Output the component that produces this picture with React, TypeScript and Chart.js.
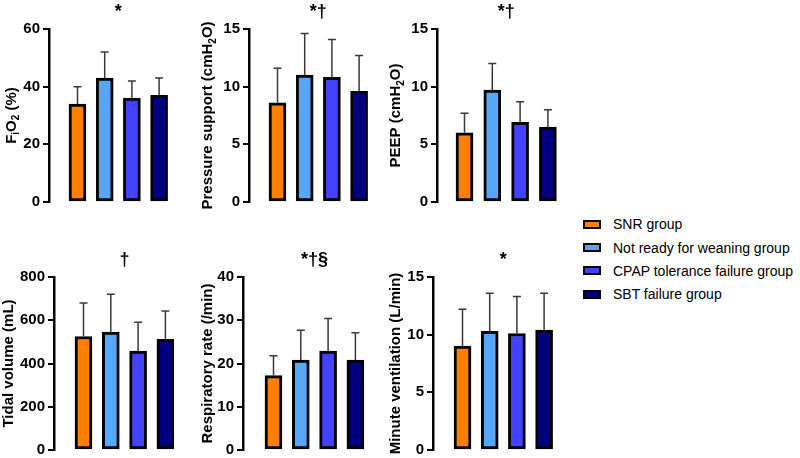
import React, { useEffect, useRef } from "react";
import { Chart, registerables } from "chart.js";

Chart.register(...registerables);

const FONT = '"Liberation Sans", Arial, Helvetica, sans-serif';

// ---- data ----
const groups = [
  "SNR group",
  "Not ready for weaning group",
  "CPAP tolerance failure group",
  "SBT failure group",
];
const groupColors = ["#FF8000", "#56A6FA", "#4343FF", "#000080"];
const groupPositions = [1, 2, 3, 4];

const fio2Mean = [34, 43, 36, 37];
const fio2Sd = [6, 9, 6, 6];
const psMean = [8.6, 11.0, 10.8, 9.6];
const psSd = [3.0, 3.6, 3.3, 3.1];
const peepMean = [6.0, 9.7, 6.9, 6.5];
const peepSd = [1.7, 2.3, 1.8, 1.5];
const vtMean = [525, 545, 458, 512];
const vtSd = [155, 175, 133, 131];
const rrMean = [17.2, 20.8, 22.9, 20.8];
const rrSd = [4.6, 6.9, 7.5, 6.3];
const mvMean = [9.0, 10.3, 10.1, 10.4];
const mvSd = [3.2, 3.3, 3.2, 3.2];

const axisMax = [60, 15, 15, 800, 40, 15];
const axisStep = [20, 5, 5, 200, 10, 5];
const markers = ["*", "*†", "*†", "†", "*†§", "*"];

type Seg = { t: string; sub?: boolean };
const axisTitles: Seg[][] = [
  [{ t: "F" }, { t: "i", sub: true }, { t: "O" }, { t: "2", sub: true }, { t: " (%)" }],
  [{ t: "Pressure support (cmH" }, { t: "2", sub: true }, { t: "O)" }],
  [{ t: "PEEP (cmH" }, { t: "2", sub: true }, { t: "O)" }],
  [{ t: "Tidal volume (mL)" }],
  [{ t: "Respiratory rate (/min)" }],
  [{ t: "Minute ventilation (L/min)" }],
];

const means = [fio2Mean, psMean, peepMean, vtMean, rrMean, mvMean];
const sds = [fio2Sd, psSd, peepSd, vtSd, rrSd, mvSd];

// ---- layout (page px) ----
const AXW = 56;
const PLOT_H = 173;
const PAD_TOP = 29;
const PAD_BOTTOM = 16;
const X_MAX = 4.6;
const layout = [
  { L: 49, T: 29, off: 28.5, sp: 27.2, tdx: -38.5 },
  { L: 249, T: 29, off: 28.5, sp: 27.2, tdx: -42 },
  { L: 437, T: 29, off: 27.5, sp: 27.8, tdx: -42 },
  { L: 54, T: 277, off: 29.5, sp: 27.3, tdx: -46 },
  { L: 243, T: 277, off: 30.5, sp: 27.3, tdx: -36 },
  { L: 433, T: 277, off: 29.5, sp: 27.2, tdx: -38 },
];

function Panel({ idx }: { idx: number }) {
  const ref = useRef<HTMLCanvasElement | null>(null);
  const lay = layout[idx];
  const xMin = 1 - lay.off / lay.sp;
  const plotW = (X_MAX - xMin) * lay.sp;
  const cw = Math.round(AXW + plotW + 4);
  const ch = PAD_TOP + PLOT_H + PAD_BOTTOM;

  useEffect(() => {
    if (!ref.current) return;
    const mean = means[idx];
    const sd = sds[idx];
    const extras = {
      id: "extras" + idx,
      afterDatasetsDraw(chart: any) {
        const ctx = chart.ctx;
        const meta = chart.getDatasetMeta(0);
        const ys = chart.scales.y;
        ctx.save();
        ctx.strokeStyle = "#3a3a3a";
        ctx.lineWidth = 1.5;
        meta.data.forEach((bar: any, i: number) => {
          const x = bar.x;
          const y0 = ys.getPixelForValue(mean[i]);
          const y1 = ys.getPixelForValue(mean[i] + sd[i]);
          ctx.beginPath();
          ctx.moveTo(x, y0);
          ctx.lineTo(x, y1);
          ctx.moveTo(x - 4, y1);
          ctx.lineTo(x + 4, y1);
          ctx.stroke();
        });
        ctx.restore();
      },
      afterDraw(chart: any) {
        const ctx = chart.ctx;
        const area = chart.chartArea;
        const xs = chart.scales.x;
        ctx.save();
        // significance marker
        ctx.fillStyle = "#000";
        ctx.font = `bold 18px ${FONT}`;
        ctx.textAlign = "center";
        ctx.textBaseline = "middle";
        ctx.fillText(markers[idx], xs.getPixelForValue(2.5), area.top - 17);
        // axis title with subscripts
        const segs = axisTitles[idx];
        const size = 15;
        const subSize = 10;
        const mainFont = `bold ${size}px ${FONT}`;
        const subFont = `bold ${subSize}px ${FONT}`;
        let total = 0;
        const widths = segs.map((s) => {
          ctx.font = s.sub ? subFont : mainFont;
          const w = ctx.measureText(s.t).width;
          total += w;
          return w;
        });
        const cx = area.left + lay.tdx;
        const cy = (area.top + area.bottom) / 2;
        ctx.translate(cx, cy);
        ctx.rotate(-Math.PI / 2);
        ctx.textAlign = "left";
        ctx.textBaseline = "alphabetic";
        let x = -total / 2;
        const base = size * 0.36;
        segs.forEach((s, i) => {
          ctx.font = s.sub ? subFont : mainFont;
          ctx.fillText(s.t, x, s.sub ? base + size * 0.22 : base);
          x += widths[i];
        });
        ctx.restore();
      },
    };

    const chart = new Chart(ref.current, {
      type: "bar",
      data: {
        datasets: [
          {
            data: groupPositions.map((x, i) => ({ x, y: mean[i] })),
            backgroundColor: groupColors,
            borderColor: "#000",
            borderWidth: 3,
            borderSkipped: false,
            barThickness: 17,
          } as any,
        ],
      },
      options: {
        animation: false,
        responsive: false,
        devicePixelRatio: 1,
        layout: { padding: { top: PAD_TOP, bottom: PAD_BOTTOM, left: 0, right: cw - AXW - plotW } },
        plugins: { legend: { display: false }, tooltip: { enabled: false }, title: { display: false } },
        scales: {
          x: { type: "linear", display: false, min: xMin, max: X_MAX, offset: false } as any,
          y: {
            min: 0,
            max: axisMax[idx],
            ticks: {
              stepSize: axisStep[idx],
              color: "#000",
              padding: 3,
              font: { family: FONT, size: 15, weight: "bold" },
            },
            grid: {
              display: true,
              drawOnChartArea: false,
              drawTicks: true,
              tickLength: 6,
              color: "#000",
              lineWidth: 2,
            },
            border: { display: true, color: "#000", width: 2.5 },
            afterFit(scale: any) {
              scale.width = AXW;
            },
          } as any,
        },
      },
      plugins: [extras],
    });
    return () => chart.destroy();
  }, [idx]);

  return (
    <canvas
      ref={ref}
      width={cw}
      height={ch}
      style={{ position: "absolute", left: lay.L - AXW, top: lay.T - PAD_TOP, width: cw, height: ch }}
    />
  );
}

const legendY = [224, 247.5, 270.5, 294];

export default function App() {
  return (
    <div
      style={{
        position: "absolute",
        left: 0,
        top: 0,
        width: 800,
        height: 458,
        background: "#fff",
        overflow: "hidden",
        fontFamily: FONT,
      }}
    >
      {[0, 1, 2, 3, 4, 5].map((i) => (
        <Panel key={i} idx={i} />
      ))}
      {groups.map((g, i) => (
        <div key={g}>
          <div
            style={{
              position: "absolute",
              left: 583,
              top: legendY[i] - 4.5,
              width: 18,
              height: 9,
              boxSizing: "border-box",
              border: "2px solid #000",
              background: groupColors[i],
            }}
          />
          <div
            style={{
              position: "absolute",
              left: 613,
              top: legendY[i] - 9,
              fontSize: 14,
              lineHeight: "18px",
              color: "#000",
              whiteSpace: "nowrap",
            }}
          >
            {g}
          </div>
        </div>
      ))}
    </div>
  );
}
